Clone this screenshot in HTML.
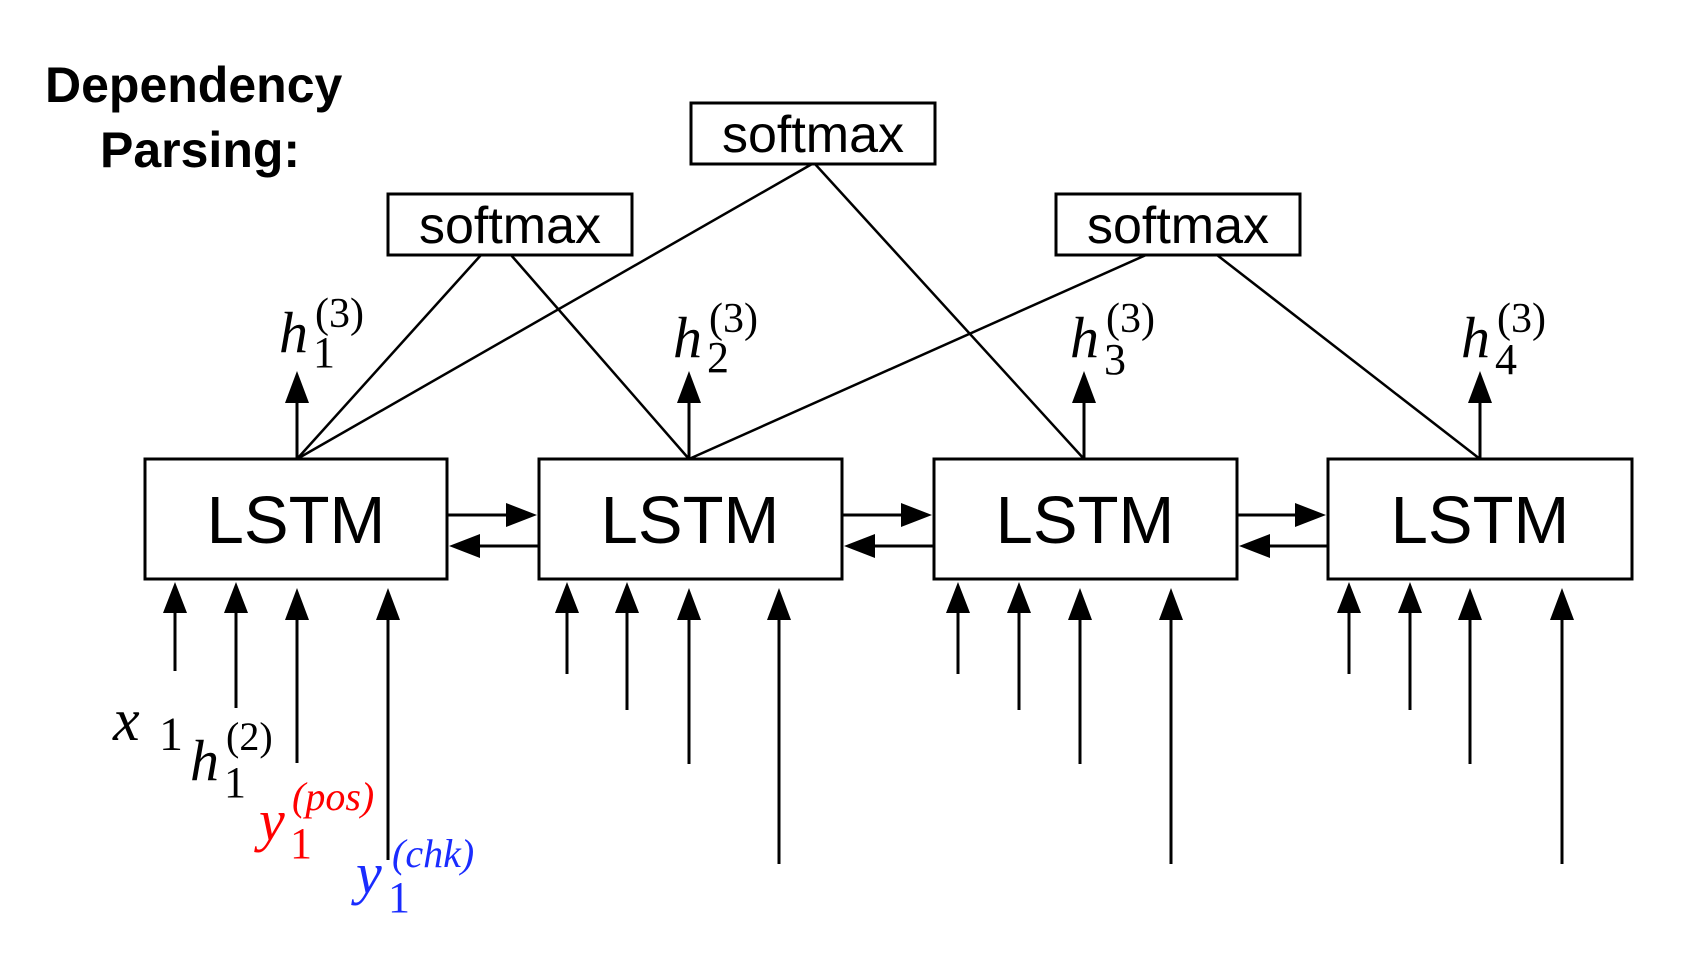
<!DOCTYPE html>
<html><head><meta charset="utf-8"><style>
html,body{margin:0;padding:0;background:#fff;}
svg{display:block}
.ls{font-family:"Liberation Sans",sans-serif;font-size:67px;}
.sm{font-family:"Liberation Sans",sans-serif;font-size:52px;}
.it{font-family:"Liberation Serif",serif;font-style:italic;}
.rm{font-family:"Liberation Serif",serif;}
</style></head><body>
<svg width="1684" height="956" viewBox="0 0 1684 956" xmlns="http://www.w3.org/2000/svg">
<defs>
<marker id="ah" markerWidth="10" markerHeight="10" refX="9" refY="5" orient="auto" markerUnits="userSpaceOnUse" viewBox="0 0 10 10"></marker>
</defs>
<g font-family="Liberation Sans" font-weight="bold" font-size="50">
<text x="45" y="102">Dependency</text>
<text x="100" y="167">Parsing:</text>
</g>
<g stroke="#000" stroke-width="3" fill="none">
<rect x="145" y="459" width="302" height="120"/>
<rect x="539" y="459" width="303" height="120"/>
<rect x="934" y="459" width="303" height="120"/>
<rect x="1328" y="459" width="304" height="120"/>
<rect x="388" y="194" width="244" height="61"/>
<rect x="691" y="103" width="244" height="61"/>
<rect x="1056" y="194" width="244" height="61"/>
<g stroke-width="2.5">
<line x1="481" y1="255" x2="297" y2="459"/>
<line x1="511" y1="255" x2="689" y2="459"/>
<line x1="812" y1="164" x2="297" y2="459"/>
<line x1="815" y1="164" x2="1084" y2="459"/>
<line x1="1146" y1="255" x2="689" y2="459"/>
<line x1="1217" y1="255" x2="1480" y2="459"/>
</g>
<!-- up arrows -->
<line x1="297" y1="459" x2="297" y2="400"/>
<line x1="689" y1="459" x2="689" y2="400"/>
<line x1="1084" y1="459" x2="1084" y2="400"/>
<line x1="1480" y1="459" x2="1480" y2="400"/>
<!-- horizontal -->
<line x1="447" y1="515" x2="510" y2="515"/>
<line x1="539" y1="546" x2="475" y2="546"/>
<line x1="842" y1="515" x2="905" y2="515"/>
<line x1="934" y1="546" x2="870" y2="546"/>
<line x1="1237" y1="515" x2="1300" y2="515"/>
<line x1="1328" y1="546" x2="1264" y2="546"/>
<!-- bottom inputs -->
<line x1="175" y1="610" x2="175" y2="671"/>
<line x1="236" y1="610" x2="236" y2="708"/>
<line x1="297" y1="616" x2="297" y2="763"/>
<line x1="388" y1="616" x2="388" y2="860"/>
<line x1="567" y1="610" x2="567" y2="674"/>
<line x1="627" y1="610" x2="627" y2="710"/>
<line x1="689" y1="616" x2="689" y2="764"/>
<line x1="779" y1="616" x2="779" y2="864"/>
<line x1="958" y1="610" x2="958" y2="674"/>
<line x1="1019" y1="610" x2="1019" y2="710"/>
<line x1="1080" y1="616" x2="1080" y2="764"/>
<line x1="1171" y1="616" x2="1171" y2="864"/>
<line x1="1349" y1="610" x2="1349" y2="674"/>
<line x1="1410" y1="610" x2="1410" y2="710"/>
<line x1="1470" y1="616" x2="1470" y2="764"/>
<line x1="1562" y1="616" x2="1562" y2="864"/>
</g>
<g fill="#000">
<!-- up arrowheads -->
<polygon points="297,371 285,403 309,403"/>
<polygon points="689,371 677,403 701,403"/>
<polygon points="1084,371 1072,403 1096,403"/>
<polygon points="1480,371 1468,403 1492,403"/>
<!-- horizontal heads -->
<polygon points="537,515 506,503 506,527"/>
<polygon points="449,546 480,534 480,558"/>
<polygon points="932,515 901,503 901,527"/>
<polygon points="844,546 875,534 875,558"/>
<polygon points="1326,515 1295,503 1295,527"/>
<polygon points="1239,546 1270,534 1270,558"/>
<!-- bottom heads -->
<polygon points="175,582 163,613 187,613"/>
<polygon points="236,582 224,613 248,613"/>
<polygon points="297,588 285,620 309,620"/>
<polygon points="388,588 376,620 400,620"/>
<polygon points="567,582 555,613 579,613"/>
<polygon points="627,582 615,613 639,613"/>
<polygon points="689,588 677,620 701,620"/>
<polygon points="779,588 767,620 791,620"/>
<polygon points="958,582 946,613 970,613"/>
<polygon points="1019,582 1007,613 1031,613"/>
<polygon points="1080,588 1068,620 1092,620"/>
<polygon points="1171,588 1159,620 1183,620"/>
<polygon points="1349,582 1337,613 1361,613"/>
<polygon points="1410,582 1398,613 1422,613"/>
<polygon points="1470,588 1458,620 1482,620"/>
<polygon points="1562,588 1550,620 1574,620"/>
</g>
<g class="ls" text-anchor="middle">
<text x="296" y="543">LSTM</text>
<text x="690" y="543">LSTM</text>
<text x="1085" y="543">LSTM</text>
<text x="1480" y="543">LSTM</text>
</g>
<g class="sm" text-anchor="middle">
<text x="510" y="243">softmax</text>
<text x="813" y="152">softmax</text>
<text x="1178" y="243">softmax</text>
</g>
<!-- h(3) labels -->
<g>
<text class="it" x="279" y="352" font-size="58">h</text><text class="rm" x="313" y="367" font-size="44">1</text><text class="rm" x="315" y="327" font-size="42">(3)</text>
<text class="it" x="673" y="357" font-size="58">h</text><text class="rm" x="707" y="372" font-size="44">2</text><text class="rm" x="709" y="332" font-size="42">(3)</text>
<text class="it" x="1070" y="357" font-size="58">h</text><text class="rm" x="1104" y="374" font-size="44">3</text><text class="rm" x="1106" y="332" font-size="42">(3)</text>
<text class="it" x="1461" y="357" font-size="58">h</text><text class="rm" x="1495" y="374" font-size="44">4</text><text class="rm" x="1497" y="332" font-size="42">(3)</text>
</g>
<!-- bottom labels -->
<text class="it" x="113" y="740" font-size="60">x</text><text class="rm" x="159" y="750" font-size="48">1</text>
<text class="it" x="190" y="780" font-size="58">h</text><text class="rm" x="224" y="797" font-size="44">1</text><text class="rm" x="226" y="750" font-size="40">(2)</text>
<g fill="#ff0000"><text class="it" x="259" y="840" font-size="58">y</text><text class="rm" x="290" y="858" font-size="44">1</text><text class="it" x="292" y="810" font-size="40">(pos)</text></g>
<g fill="#1a2cff"><text class="it" x="356" y="893" font-size="58">y</text><text class="rm" x="388" y="912" font-size="44">1</text><text class="it" x="392" y="867" font-size="40">(chk)</text></g>
</svg>
</body></html>
